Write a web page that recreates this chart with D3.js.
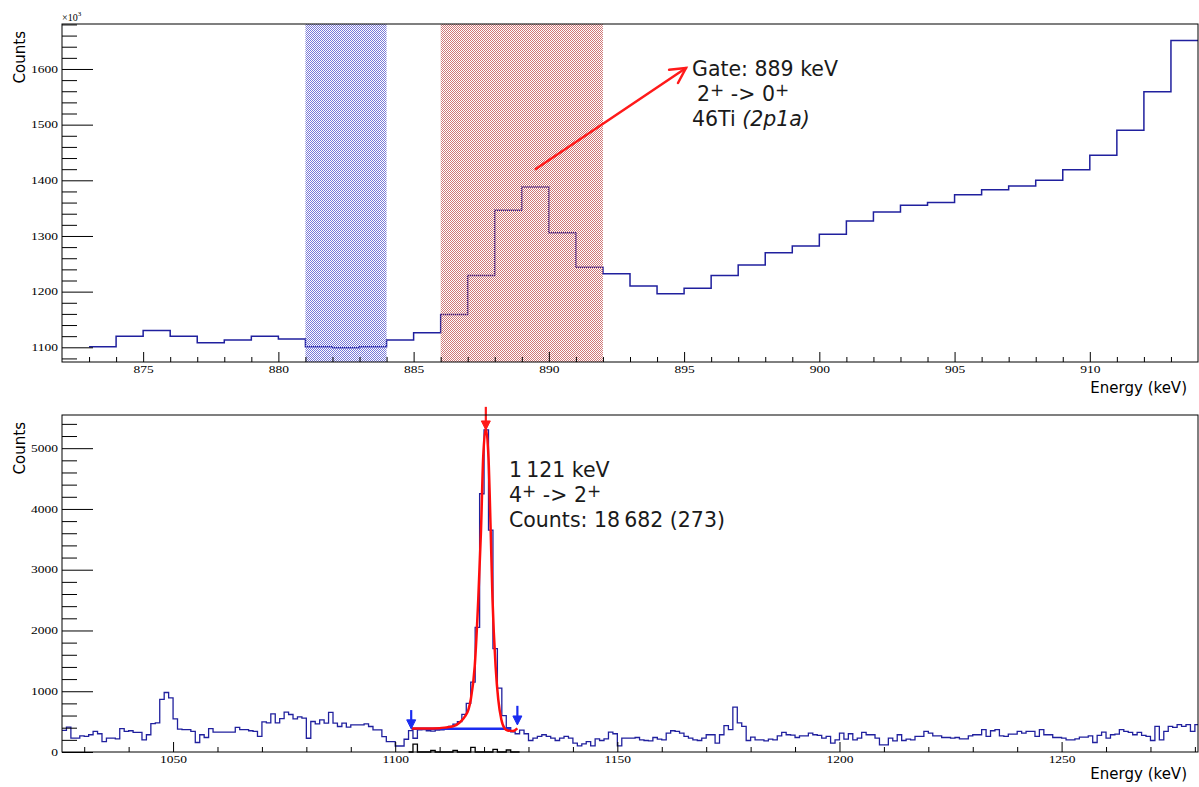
<!DOCTYPE html>
<html><head><meta charset="utf-8">
<script src="https://cdn.jsdelivr.net/npm/d3@7"></script>
<style>
body{margin:0;background:#fff;}
svg{display:block;}
</style></head><body>
<svg id="c" width="1199" height="787"></svg>
<script>
// ---------------- data ----------------
const topBinStart = 873;          // keV, first bin low edge (1 keV bins)
const topCounts = [1101,1120,1130,1120,1108,1113,1120,1115,1101,1099,1101,1113,1126,1159,1229,1346,1388,1306,1244,1232,1210,1196,1206,1229,1248,1270,1282,1303,1327,1343,1355,1360,1374,1383,1390,1400,1419,1445,1490,1559,1651];
const gateBlue = [881, 884];
const gateRed = [886, 892];
const topXTicks = [875,880,885,890,895,900,905,910];
const topYTicks = [1100,1200,1300,1400,1500,1600];

const botBinStart = 1025;         // keV, first bin low edge (1 keV bins)
const botCounts = [
 356,411,228,228,267,256,284,339,300,172,
 228,228,217,384,339,350,322,322,200,284,
 467,478,867,979,890,545,378,367,367,339,
 156,284,239,384,328,328,328,328,328,406,
 367,367,350,339,256,495,478,628,478,550,
 656,617,545,578,
 557,226,502,464,530,475,651,475,420,475,408,447,447,447,464,420,364,364,254,171,171,99,99,210,353,226,364,
 370,350,345,360,365,380,420,460,500,620,800,1150,2050,4250,5300,3650,1700,1050,600,400,330,300,360,
 300,189,228,256,284,256,228,189,228,256,228,145,100,133,172,100,217,189,217,328,300,100,228,228,228,239,200,189,183,239,211,200,311,350,339,311,256,228,200,189,228,284,284,145,284,434,367,740,478,423,189,245,200,200,183,211,200,267,322,284,278,239,267,267,311,284,272,228,256,145,200,311,211,300,200,228,
 322,284,284,228,117,117,228,183,284,189,
 211,200,256,256,339,311,267,267,239,239,
 228,239,217,217,267,284,284,367,256,350,
 367,267,256,295,295,339,311,339,339,256,
 367,284,284,239,239,228,200,200,217,245,
 245,267,156,272,328,228,284,295,367,339,
 322,284,322,272,256,189,423,200,339,423,
 406,450,423,450,339,450];
const residStart = 1103;
const residCounts = [0,130,0,0,0,25,0,0,0,0,25,0,0,0,77,0,0,0,0,44,0,0,33,0,0];
const fitE = [1103.7,1106,1108,1110,1111.5,1112.5,1113.8,1115.0,1115.7,1116.5,1117.0,1117.9,1118.7,1119.3,1119.8,1120.4,1121.0,1121.5,1121.9,1122.6,1123.2,1123.9,1124.6,1125.3,1126.5,1127.5];
const fitC = [385,386,388,392,405,415,447,520,585,700,860,1410,2520,3620,4840,5330,4840,3620,2520,1410,860,530,390,355,345,390];
const bgE = [1103.7, 1126];
const bgC = [381, 381];
const markE = [1103.6, 1127.5];
const markTip = [381, 445];
const markTail = [690, 760];
const peakE = [1120.4];
const peakTip = [5300];
const peakTail = [5680];
const botXTicks = [1050,1100,1150,1200,1250];
const botYTicks = [0,1000,2000,3000,4000,5000];

// ---------------- layout ----------------
const svg = d3.select('#c');
const L = 62, R = 1198;
const topP = {t:24, b:362};
const botP = {t:415, b:752};
const histColor = '#20209e';
const tickFont = 'Liberation Serif, Times New Roman, serif';
const sans = 'DejaVu Sans, Verdana, sans-serif';

const defs = svg.append('defs');
function checker(id, color){
  const p = defs.append('pattern').attr('id', id).attr('width',2).attr('height',2).attr('patternUnits','userSpaceOnUse');
  p.append('rect').attr('x',0).attr('y',0).attr('width',1).attr('height',1).attr('fill',color).attr('shape-rendering','crispEdges');
  p.append('rect').attr('x',1).attr('y',1).attr('width',1).attr('height',1).attr('fill',color).attr('shape-rendering','crispEdges');
}
checker('pBlue', '#7a7ad8');
checker('pRed', '#d07878');
defs.append('clipPath').attr('id','clipBot').append('rect').attr('x',L).attr('y',botP.t).attr('width',R-L).attr('height',botP.b-botP.t);
defs.append('clipPath').attr('id','clipTop').append('rect').attr('x',L).attr('y',topP.t).attr('width',R-L).attr('height',topP.b-topP.t);

function binPoints(start, vals){
  const pts = vals.map((v,i)=>({e:start+i, v}));
  pts.push({e:start+vals.length, v:vals[vals.length-1]});
  return pts;
}

function styleTickText(sel){
  sel.selectAll('text').attr('font-family', tickFont).attr('font-size', 10).attr('fill','#000')
    .attr('transform','scale(1.35,1)');
}

function axes(x, y, P, xMajor, xMinor, yMajor, yMinor){
  const gx = svg.append('g').attr('transform',`translate(0,${P.b})`);
  gx.call(d3.axisBottom(x).tickValues(xMajor).tickSizeInner(-10).tickSizeOuter(0).tickPadding(4).tickFormat(d3.format('d')));
  gx.select('.domain').remove();
  gx.selectAll('line').attr('stroke','#000');
  styleTickText(gx);
  const gxm = svg.append('g').attr('transform',`translate(0,${P.b})`);
  gxm.call(d3.axisBottom(x).tickValues(xMinor).tickSizeInner(-5).tickSizeOuter(0).tickFormat(''));
  gxm.select('.domain').remove();
  gxm.selectAll('line').attr('stroke','#000');
  const gy = svg.append('g').attr('transform',`translate(${L},0)`);
  gy.call(d3.axisLeft(y).tickValues(yMajor).tickSizeInner(-31).tickSizeOuter(0).tickPadding(3).tickFormat(d3.format('d')));
  gy.select('.domain').remove();
  gy.selectAll('line').attr('stroke','#000');
  styleTickText(gy);
  const gym = svg.append('g').attr('transform',`translate(${L},0)`);
  gym.call(d3.axisLeft(y).tickValues(yMinor).tickSizeInner(-15).tickSizeOuter(0).tickFormat(''));
  gym.select('.domain').remove();
  gym.selectAll('line').attr('stroke','#000');
  svg.append('rect').attr('x',L).attr('y',P.t).attr('width',R-L).attr('height',P.b-P.t)
    .attr('fill','none').attr('stroke','#000').attr('stroke-width',1);
}

// ---------------- top panel ----------------
const xT = d3.scaleLinear().domain([872, 914]).range([L, R]);
const yT = d3.scaleLinear().domain([1073.6, 1680.8]).range([topP.b, topP.t]);
const step = (x,y)=> d3.line().x(d=>x(d.e)).y(d=>y(d.v)).curve(d3.curveStepAfter);

svg.append('path').datum(binPoints(topBinStart, topCounts))
  .attr('d', step(xT,yT)).attr('fill','none').attr('stroke',histColor).attr('stroke-width',1.5)
  .attr('clip-path','url(#clipTop)');

svg.append('rect').attr('x',xT(gateBlue[0])).attr('y',topP.t).attr('width',xT(gateBlue[1])-xT(gateBlue[0])).attr('height',topP.b-topP.t).attr('fill','url(#pBlue)');
svg.append('rect').attr('x',xT(gateRed[0])).attr('y',topP.t).attr('width',xT(gateRed[1])-xT(gateRed[0])).attr('height',topP.b-topP.t).attr('fill','url(#pRed)');

axes(xT, yT, topP, topXTicks, d3.range(873, 914, 1).filter(v=>v%5!==0),
     topYTicks, d3.range(1080, 1681, 20).filter(v=>v%100!==0));

const mult = svg.append('text').attr('x',L).attr('y',21).attr('font-family',tickFont).attr('font-size',10).attr('fill','#000');
mult.append('tspan').text('\u00d710');
mult.append('tspan').attr('dy',-5).attr('font-size',7).text('3');

function yTitle(yTop){
  svg.append('text').attr('transform',`translate(25,${yTop}) rotate(-90)`).attr('text-anchor','end')
    .attr('font-family',sans).attr('font-size',15).attr('fill','#000').text('Counts');
}
function xTitle(yb){
  svg.append('text').attr('x',1187).attr('y',yb).attr('text-anchor','end')
    .attr('font-family',sans).attr('font-size',15).attr('fill','#000').text('Energy (keV)');
}
yTitle(31); xTitle(393);

const ax0 = 535.7, ay0 = 169, ax1 = 686, ay1 = 68;
(function(){
  const g = svg.append('g').attr('stroke','#ff1a1a').attr('stroke-width',2.5).attr('fill','none').attr('stroke-linecap','round');
  g.append('line').attr('x1',ax0).attr('y1',ay0).attr('x2',ax1).attr('y2',ay1);
  const ang = Math.atan2(ay0-ay1, ax0-ax1), a = 28*Math.PI/180, len = 17;
  g.append('polyline').attr('points',[
    [ax1+len*Math.cos(ang+a), ay1+len*Math.sin(ang+a)],[ax1,ay1],[ax1+len*Math.cos(ang-a), ay1+len*Math.sin(ang-a)]
  ].map(p=>p.join(',')).join(' '));
})();

const annFS = 20.5, supFS = 17, supDy = 5;
function supLine(x, y, parts){
  const t = svg.append('text').attr('x',x).attr('y',y).attr('font-family',sans).attr('font-size',annFS).attr('fill','#1a1a1a');
  let raised = false;
  parts.forEach(([txt, isSup])=>{
    if(isSup){ t.append('tspan').attr('dy', raised ? 0 : -supDy).attr('font-size',supFS).text(txt); raised = true; }
    else { t.append('tspan').attr('dy', raised ? supDy : 0).text(txt); raised = false; }
  });
  return t;
}
svg.append('text').attr('x',692).attr('y',76).attr('font-family',sans).attr('font-size',annFS).attr('fill','#1a1a1a').text('Gate: 889 keV');
supLine(697, 101, [['2',0],['+',1],[' -> 0',0],['+',1]]);
(function(){
  const t = svg.append('text').attr('x',692).attr('y',126).attr('font-family',sans).attr('font-size',annFS).attr('fill','#1a1a1a');
  t.append('tspan').text('46Ti ');
  t.append('tspan').attr('font-style','italic').text('(2p1a)');
})();

// ---------------- bottom panel ----------------
const xB = d3.scaleLinear().domain([1025, 1280.7]).range([L, R]);
const yB = d3.scaleLinear().domain([0, 5546]).range([botP.b, botP.t]);

svg.append('path').datum(binPoints(botBinStart, botCounts))
  .attr('d', step(xB,yB)).attr('fill','none').attr('stroke',histColor).attr('stroke-width',1.3)
  .attr('clip-path','url(#clipBot)');

svg.append('path').datum(binPoints(residStart, residCounts))
  .attr('d', step(xB,yB)).attr('fill','none').attr('stroke','#000').attr('stroke-width',1.3);

svg.append('path').datum(bgE.map((e,i)=>({e, v:bgC[i]})))
  .attr('d', d3.line().x(d=>xB(d.e)).y(d=>yB(d.v))).attr('stroke','#1a2cf0').attr('stroke-width',2.5).attr('fill','none');

svg.append('path').datum(fitE.map((e,i)=>({e, v:fitC[i]})))
  .attr('d', d3.line().x(d=>xB(d.e)).y(d=>yB(d.v)).curve(d3.curveMonotoneX))
  .attr('stroke','#ff0d0d').attr('stroke-width',2.5).attr('fill','none');

function downArrow(e, tip, tail, color){
  const x = xB(e), y1 = yB(tail), y2 = yB(tip);
  svg.append('line').attr('x1',x).attr('x2',x).attr('y1',y1).attr('y2',y2-4).attr('stroke',color).attr('stroke-width',2.2);
  svg.append('path').attr('d',`M${x-4.5},${y2-9}L${x+4.5},${y2-9}L${x},${y2}Z`).attr('fill',color).attr('stroke',color).attr('stroke-width',1);
}
markE.forEach((e,i)=>downArrow(e, markTip[i], markTail[i], '#1a2cf0'));
peakE.forEach((e,i)=>downArrow(e, peakTip[i], peakTail[i], '#ff1a1a'));

axes(xB, yB, botP, botXTicks, d3.range(1030, 1281, 10).filter(v=>v%50!==0),
     botYTicks, d3.range(200, 5547, 200).filter(v=>v%1000!==0));

yTitle(422); xTitle(779);

svg.append('text').attr('x',509).attr('y',477).attr('font-family',sans).attr('font-size',annFS).attr('fill','#1a1a1a').text('1\u2009121 keV');
supLine(509, 502, [['4',0],['+',1],[' -> 2',0],['+',1]]);
svg.append('text').attr('x',509).attr('y',527).attr('font-family',sans).attr('font-size',annFS).attr('fill','#1a1a1a').text('Counts: 18\u2009682 (273)');
</script>
</body></html>
